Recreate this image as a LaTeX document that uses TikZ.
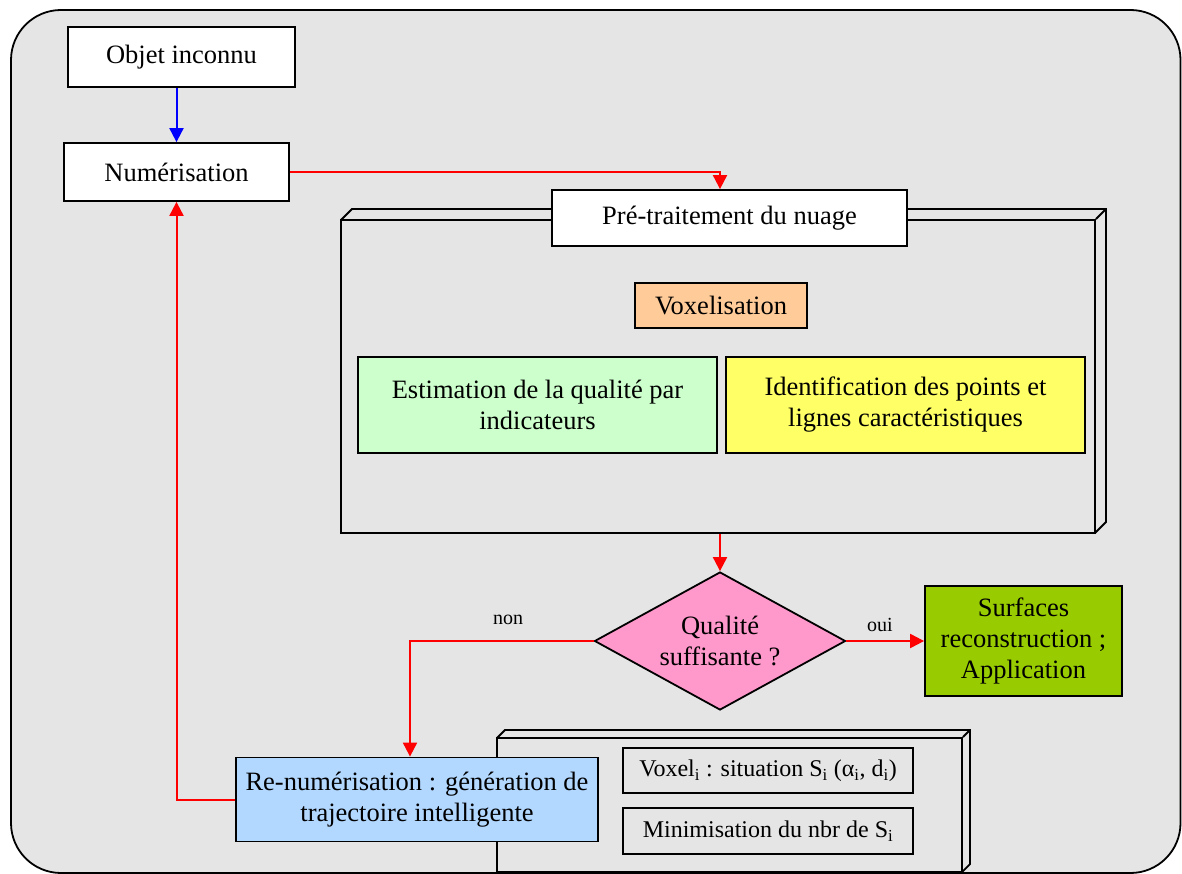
\documentclass[tikz,border=0pt]{standalone}
\usepackage{fontspec}
\setmainfont{Liberation Serif}
\usetikzlibrary{shapes.geometric,arrows.meta,calc}
\definecolor{bggray}{HTML}{E5E5E5}
\definecolor{peach}{HTML}{FFCC99}
\definecolor{lgreen}{HTML}{CCFFCC}
\definecolor{lyellow}{HTML}{FFFF66}
\definecolor{pinkq}{HTML}{FF99CC}
\definecolor{olivegreen}{HTML}{99CC00}
\definecolor{lblue}{HTML}{B3D8FF}
\begin{document}
\begin{tikzpicture}[x=1pt,y=-1pt,
  font=\fontsize{26.5}{31}\selectfont,
  box/.style={draw,line width=1.8pt,inner sep=0pt,align=center},
  arr/.style={draw=red,line width=2pt,-{Triangle[width=14pt,length=14pt]}},
  lbl/.style={font=\fontsize{20}{24}\selectfont},
  small/.style={font=\fontsize{24}{28}\selectfont}]
\useasboundingbox (0,0) rectangle (1182,874);
\fill[white] (0,0) rectangle (1182,874);
\draw[fill=bggray,line width=1.8pt,rounded corners=50pt] (11,10) rectangle (1180.5,873);

% top nodes
\node[box,fill=white,minimum width=227,minimum height=60] (obj) at (181.5,57) {Objet inconnu};
\node[box,fill=white,minimum width=225,minimum height=58] (num) at (176.5,172) {Numérisation};

% pre-treatment 3D frame
\draw[line width=1.8pt,fill=bggray] (341,220) -- (352,209) -- (1106,209) -- (1106,522) -- (1095,533);
\node[box,fill=bggray,minimum width=754,minimum height=313] (frame) at (718,376.5) {};
\draw[line width=1.8pt] (frame.north east) -- (1106,209);
\node[box,fill=white,minimum width=355,minimum height=56] (pre) at (729.5,218) {\raisebox{-3pt}{Pré-traitement du nuage}};
\node[box,fill=peach,minimum width=172,minimum height=45] (vox) at (721,305.5) {Voxelisation};
\node[box,fill=lgreen,minimum width=359,minimum height=96] (est) at (537.5,405) {Estimation de la qualité par\\indicateurs};
\node[box,fill=lyellow,minimum width=359,minimum height=96] (ident) at (905.5,405) {Identification des points et\\lignes caractéristiques};

% decision
\node[box,shape=diamond,aspect=1.8,fill=pinkq,minimum width=251,minimum height=138] (diam) at (720,641) {Qualité\\suffisante ?};
\node[box,fill=olivegreen,minimum width=197,minimum height=110] (surf) at (1023.5,641) {Surfaces\\reconstruction ;\\Application};

% bottom 3D frame
\draw[line width=1.8pt,fill=bggray] (497,738) -- (505,730) -- (970,730) -- (970,864) -- (962,872);
\node[box,fill=bggray,minimum width=465,minimum height=134] (bframe) at (729.5,805) {};
\draw[line width=1.8pt] (bframe.north east) -- (970,730);
\node[box,small,fill=bggray,minimum width=290,minimum height=45] (voxi) at (768,770.5) {Voxel\textsubscript{i} : situation S\textsubscript{i} (α\textsubscript{i}, d\textsubscript{i})};
\node[box,small,fill=bggray,minimum width=290,minimum height=46] (mini) at (768,831) {Minimisation du nbr de S\textsubscript{i}};
\node[box,fill=lblue,minimum width=362,minimum height=84] (renum) at (417,799.5) {Re-numérisation : génération de\\trajectoire intelligente};

% labels
\node[lbl] (nonl) at (508,620) {non};
\node[lbl] (ouil) at (880,625) {oui};
\coordinate (nonx) at (410,0);

% connectors
\draw[line width=2pt,draw=blue,-{Triangle[width=14pt,length=14pt]}] (obj.south -| num.north) -- (num.north);
\draw[arr] (num.east) -| (pre.north -| diam.north);
\draw[arr] (frame.south -| diam.north) -- (diam.north);
\draw[arr] (diam.east) -- (surf.west);
\draw[arr] (diam.west) -| (renum.north -| nonx);
\draw[arr] (renum.west) -| (num.south);
\end{tikzpicture}
\end{document}
